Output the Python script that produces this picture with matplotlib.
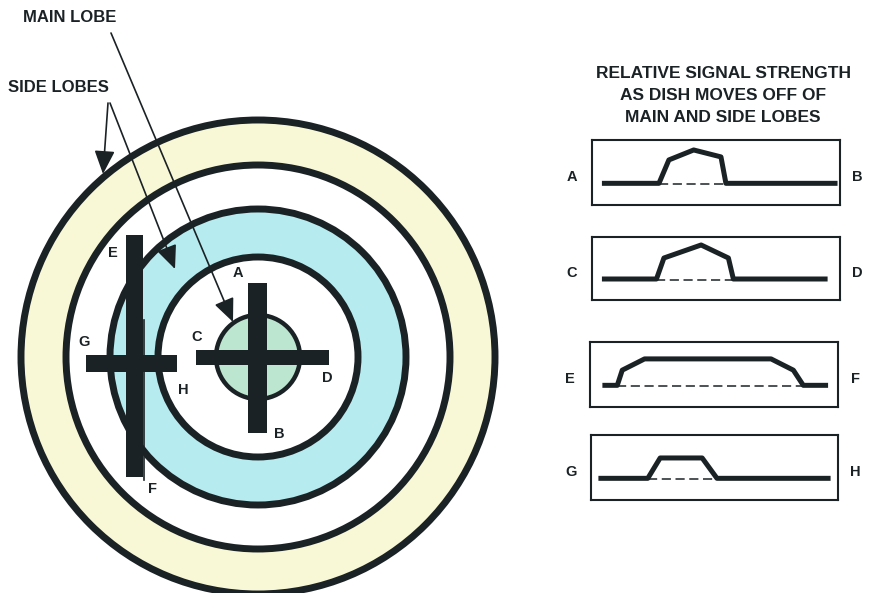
import matplotlib.pyplot as plt
from matplotlib.patches import Circle, Rectangle

plt.rcParams['font.family'] = ['Liberation Sans', 'DejaVu Sans']

INK = "#1b2225"

# --- lobe rings (pixel units, centred on the dish axis) ---
RING_CENTER = (258, 357)
RING_RADII = [237, 192, 148, 100, 42]
RING_FILLS = ["#f8f8d6", "white", "#b6ecf0", "white", "#bce6cf"]

# --- signal traces: x in % of box width, y in relative strength ---
TRACE_X = {
    "AB": [4, 27, 31, 41, 52, 54, 99],
    "CD": [4, 26, 29, 44, 55, 57, 95],
    "EF": [5, 11, 13, 22, 73, 82, 86, 96],
    "GH": [3, 23, 28, 45, 51, 97],
}
TRACE_Y = {
    "AB": [0, 0, 0.54, 0.77, 0.61, 0, 0],
    "CD": [0, 0, 0.50, 0.81, 0.50, 0, 0],
    "EF": [0, 0, 0.35, 0.61, 0.61, 0.35, 0, 0],
    "GH": [0, 0, 0.47, 0.47, 0, 0],
}
DASH_SPAN = {"AB": (27, 54), "CD": (26, 57), "EF": (11, 86), "GH": (23, 51)}
BOX_LABELS = {"AB": ("A", "B"), "CD": ("C", "D"), "EF": ("E", "F"), "GH": ("G", "H")}

W, H = 871, 593
fig = plt.figure(figsize=(W / 100, H / 100), dpi=100)
ax = fig.add_axes([0, 0, 1, 1])
ax.set_xlim(0, W)
ax.set_ylim(H, 0)
ax.axis("off")

for r, fc in zip(RING_RADII, RING_FILLS):
    lw = 3.2 if r < 50 else 5
    ax.add_patch(Circle(RING_CENTER, r, facecolor=fc, edgecolor=INK, lw=lw, zorder=1))

# crosshair bars (dish positions)
for x0, y0, w, h in [(248, 283, 19, 150), (196, 350, 133, 15),
                     (126, 235, 17, 242), (86, 355, 91, 17)]:
    ax.add_patch(Rectangle((x0, y0), w, h, facecolor=INK, edgecolor="none", zorder=3))
ax.plot([144, 144], [320, 480], color=INK, lw=1.2, zorder=3)

lab = dict(fontsize=10.5, fontweight="bold", ha="center", va="center", color=INK, zorder=5)
for t, x, y in [("A", 238, 273), ("B", 279, 434), ("C", 197, 337), ("D", 327, 378),
                ("E", 113, 253), ("F", 152, 489), ("G", 84, 342), ("H", 183, 390)]:
    ax.text(x, y, t, **lab)

# callouts
ax.text(70, 17, "MAIN LOBE", fontsize=12, fontweight="bold", ha="center", va="center", color=INK)
ax.text(58, 88, "SIDE LOBES", fontsize=12, fontweight="bold", ha="center", va="center", color=INK)
arrow = dict(arrowstyle="-|>,head_length=0.8,head_width=0.35", color=INK, lw=1.2,
             shrinkA=0, shrinkB=0, mutation_scale=18)
for start, tip in [((111, 33), (233, 322)), ((108, 103), (103, 174)), ((110, 103), (175, 269))]:
    ax.annotate("", xy=tip, xytext=start, arrowprops=arrow, zorder=4)

# right panel
for i, line in enumerate(["RELATIVE SIGNAL STRENGTH", "AS DISH MOVES OFF OF", "MAIN AND SIDE LOBES"]):
    ax.text(723, 73 + i * 22, line, fontsize=12.5, fontweight="bold", ha="center",
            va="center", color=INK)

BOXES = {"AB": (592, 140, 248, 65), "CD": (592, 237, 248, 63),
         "EF": (590, 342, 248, 65), "GH": (591, 435, 247, 65)}
for key, (bx, by, bw, bh) in BOXES.items():
    bax = fig.add_axes([bx / W, 1 - (by + bh) / H, bw / W, bh / H])
    bax.set_xlim(0, 100)
    bax.set_ylim(-0.5, 1.0)
    bax.set_xticks([])
    bax.set_yticks([])
    bax.patch.set_alpha(0)
    for s in bax.spines.values():
        s.set_linewidth(1.5)
        s.set_color(INK)
    bax.plot(TRACE_X[key], TRACE_Y[key], color=INK, lw=3.6, solid_joinstyle="round",
             solid_capstyle="butt")
    d0, d1 = DASH_SPAN[key]
    bax.plot([d0, d1], [-0.02, -0.02], color=INK, lw=1.1, ls=(0, (6, 3)))
    left, right = BOX_LABELS[key]
    cy = by + bh * (2 / 3)
    ax.text(bx - 20, cy - 6, left, **lab)
    ax.text(bx + bw + 17, cy - 6, right, **lab)

fig.savefig("out.png", dpi=100)
